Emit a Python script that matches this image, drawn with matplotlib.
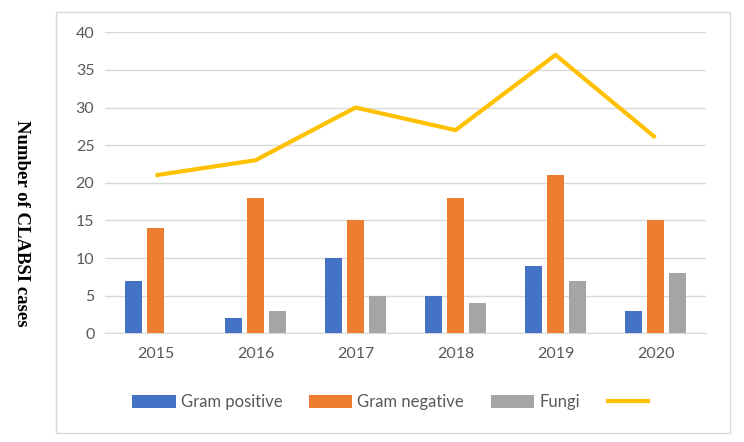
import numpy as np
import matplotlib.pyplot as plt
from matplotlib.patches import Rectangle

# data
years = ['2015', '2016', '2017', '2018', '2019', '2020']
gram_positive = [7, 2, 10, 5, 9, 3]
gram_negative = [14, 18, 15, 18, 21, 15]
fungi = [0, 3, 5, 4, 7, 8]
total = [21, 23, 30, 27, 37, 26]

plt.rcParams['font.family'] = ['Lato', 'DejaVu Sans']

fig = plt.figure(figsize=(7.44, 4.42), dpi=100)
ax = fig.add_axes([0.1418, 0.2459, 0.8065, 0.681])

# outer chart border
fig.patches.append(Rectangle((0.075, 0.020), 0.906, 0.952, transform=fig.transFigure,
                             fill=False, edgecolor='#D9D9D9', linewidth=1))

x = np.arange(len(years))
w = 0.17
step = 0.22
b1 = ax.bar(x - step, gram_positive, w, color='#4472C4', label='Gram positive', zorder=3)
b2 = ax.bar(x, gram_negative, w, color='#ED7D31', label='Gram negative', zorder=3)
b3 = ax.bar(x + step, fungi, w, color='#A5A5A5', label='Fungi', zorder=3)
ln, = ax.plot(x, total, color='#FFC000', linewidth=3, label=' ', zorder=4, solid_capstyle='butt')

ax.set_xlim(-0.5, 5.5)
ax.set_ylim(0, 40)
ax.set_yticks(range(0, 41, 5))
ax.set_xticks(x)
ax.set_xticklabels(years)
ax.tick_params(axis='both', length=0, labelsize=11.5, colors='#595959', pad=8)
ax.tick_params(axis='x', pad=10)
ax.grid(axis='y', color='#D9D9D9', linewidth=1, zorder=0)
for s in ['top', 'right', 'left']:
    ax.spines[s].set_visible(False)
ax.spines['bottom'].set_color('#D9D9D9')

# y label reads top to bottom in the original
fig.text(0.029, 0.495, 'Number of CLABSI cases', rotation=270, ha='center', va='center',
         family='Liberation Serif', fontweight='bold', fontsize=13.5)

fig.legend(handles=[b1, b2, b3, ln], labels=['Gram positive', 'Gram negative', 'Fungi', ''],
           loc='center', bbox_to_anchor=(0.529, 0.0905), ncol=4, frameon=False,
           fontsize=12, labelcolor='#595959', handlelength=2.6, handleheight=0.8,
           columnspacing=1.6, handletextpad=0.3)

fig.savefig('out.png', dpi=100)
